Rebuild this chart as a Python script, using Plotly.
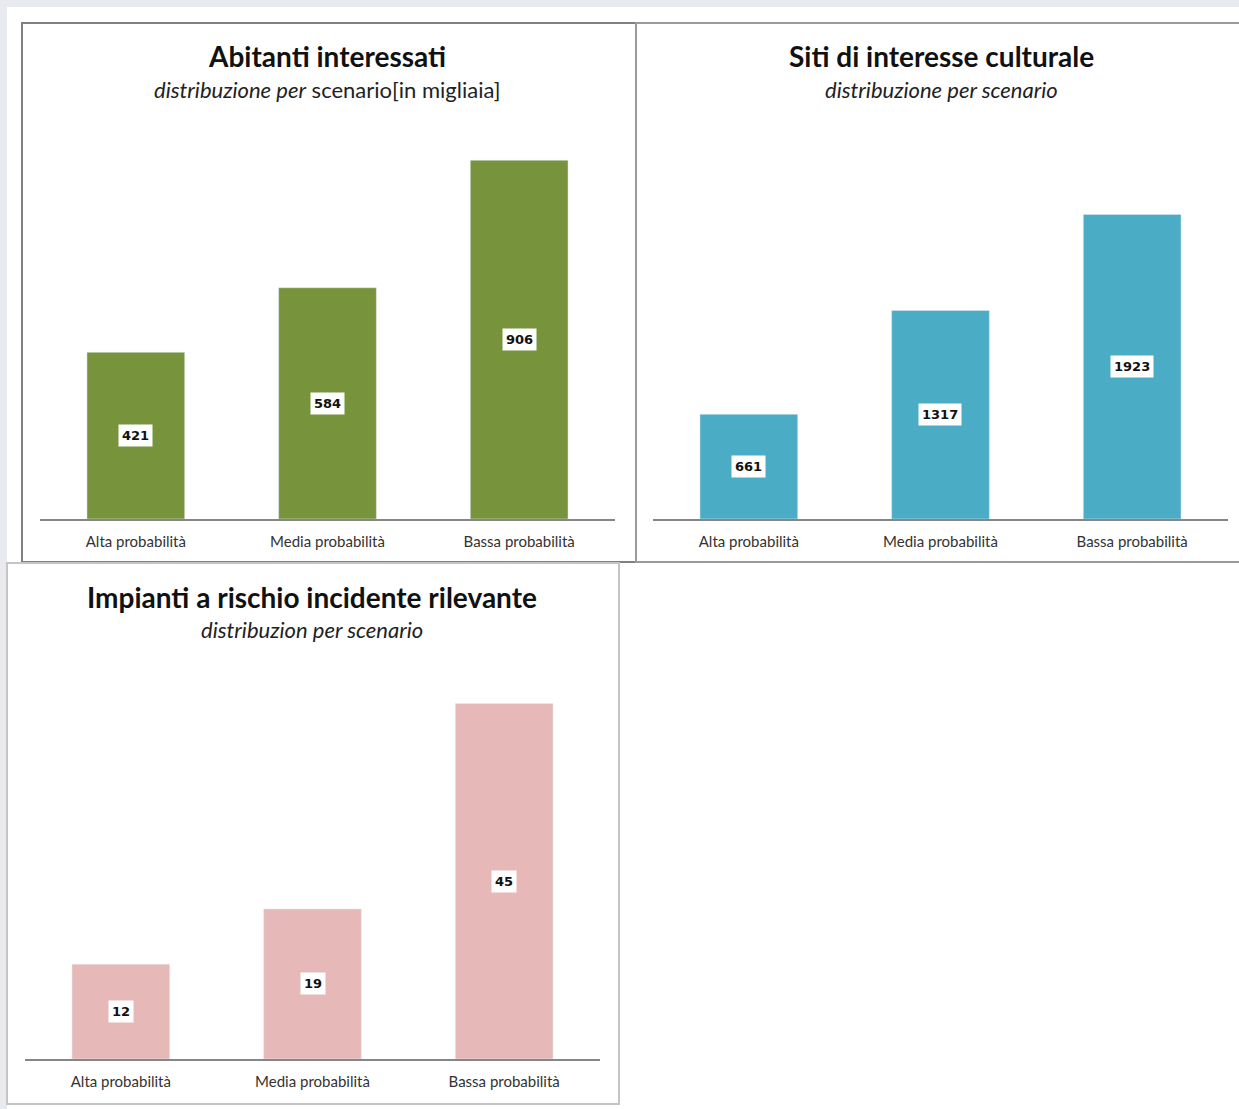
import plotly.graph_objects as go

W, H = 1239, 1109

categories = ["Alta probabilità", "Media probabilità", "Bassa probabilità"]
abitanti = [421, 584, 906]
siti = [661, 1317, 1923]
impianti = [12, 19, 45]

titles = ["Abitanti interessati", "Siti di interesse culturale", "Impianti a rischio incidente rilevante"]
subtitles = ["<i>distribuzione per</i> scenario[in migliaia]",
             "<i>distribuzione per scenario</i>",
             "<i>distribuzion per scenario</i>"]
ranges = [1000, 2500, 50]
colors = ["#77933c", "#4bacc6", "#e6b9b8"]
series = [abitanti, siti, impianti]

def px_x(p):
    return p / W

def px_y(p):
    return 1 - p / H

# plot areas (pixels): x0, x1, ytop, ybottom
areas = [(40, 615, 123, 519), (653, 1228, 123, 519), (25, 600, 664, 1059)]
title_pos = [(327, 56, 89), (941, 56, 89), (312, 597, 629)]

fig = go.Figure()
annotations = []
for i, (vals, col) in enumerate(zip(series, colors)):
    ax = "" if i == 0 else str(i + 1)
    fig.add_trace(go.Bar(x=categories, y=vals, marker_color=col, xaxis="x" + ax, yaxis="y" + ax,
                         width=0.51, hoverinfo="x+y", showlegend=False))
    x0, x1, yt, yb = areas[i]
    fig.layout["xaxis" + ax] = dict(domain=[px_x(x0), px_x(x1)], anchor="y" + ax, showline=True,
                                    linecolor="#868686", linewidth=2, ticks="", showgrid=False,
                                    ticklabelstandoff=8,
                                    tickfont=dict(family="Lato", size=15, color="#333333"))
    fig.layout["yaxis" + ax] = dict(domain=[px_y(yb), px_y(yt)], anchor="x" + ax, range=[0, ranges[i]],
                                    visible=False, showgrid=False)
    for c, v in zip(categories, vals):
        annotations.append(dict(x=c, y=v / 2, xref="x" + ax, yref="y" + ax, text="<b>%d</b>" % v,
                                showarrow=False, bgcolor="white", borderpad=3,
                                xanchor="center", yanchor="middle",
                                font=dict(family="DejaVu Sans", size=13, color="#111111")))
    tx, ty, sy = title_pos[i]
    annotations.append(dict(x=px_x(tx), y=px_y(ty), xref="paper", yref="paper", text="<b>%s</b>" % titles[i],
                            showarrow=False, xanchor="center", yanchor="middle",
                            font=dict(family="Lato", size=28, color="#111111")))
    annotations.append(dict(x=px_x(tx), y=px_y(sy), xref="paper", yref="paper", text=subtitles[i],
                            showarrow=False, xanchor="center", yanchor="middle",
                            font=dict(family="Lato", size=22, color="#222222")))

shapes = [
    dict(type="rect", xref="paper", yref="paper", x0=0, x1=1, y0=px_y(7), y1=1,
         fillcolor="#e8eaf0", line=dict(width=0), layer="below"),
    dict(type="rect", xref="paper", yref="paper", x0=0, x1=px_x(7), y0=0, y1=1,
         fillcolor="#e8eaf0", line=dict(width=0), layer="below"),
    dict(type="rect", xref="paper", yref="paper", x0=px_x(22), x1=px_x(636), y0=px_y(562), y1=px_y(23),
         line=dict(color="#808080", width=2), layer="below"),
    dict(type="rect", xref="paper", yref="paper", x0=px_x(636), x1=px_x(1250), y0=px_y(562), y1=px_y(23),
         line=dict(color="#9a9a9a", width=2), layer="below"),
    dict(type="rect", xref="paper", yref="paper", x0=px_x(7), x1=px_x(619), y0=px_y(1104), y1=px_y(563),
         line=dict(color="#c4c4c4", width=2), layer="below"),
]

fig.update_layout(width=W, height=H, margin=dict(l=0, r=0, t=0, b=0),
                  paper_bgcolor="white", plot_bgcolor="white",
                  annotations=annotations, shapes=shapes, bargap=0.49)

fig.write_html("out.html")
